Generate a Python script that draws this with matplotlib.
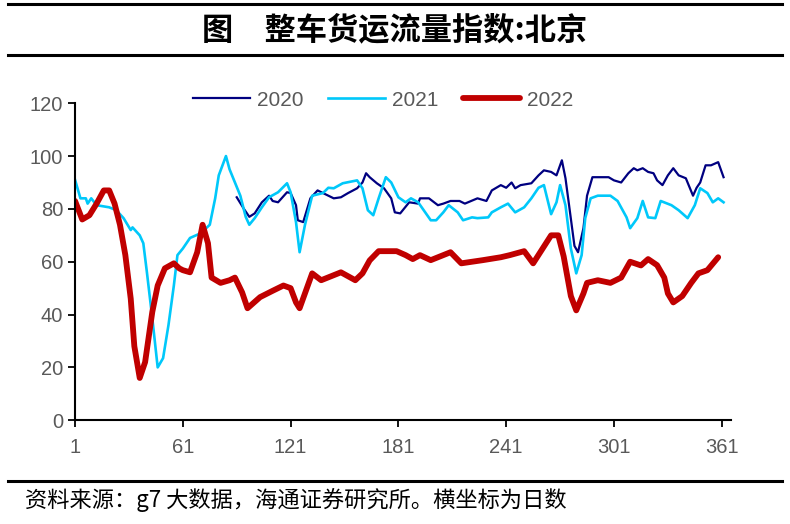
import numpy as np
import matplotlib
matplotlib.use("Agg")
import matplotlib.pyplot as plt
from matplotlib.lines import Line2D

plt.rcParams['font.family'] = ['Liberation Sans', 'Noto Sans CJK SC', 'DejaVu Sans']

# 2020 (starts around day 91)
days_2020 = [91, 95, 98, 101, 105, 109, 111, 114, 119, 121, 124, 125, 128, 132, 136, 139,
             145, 149, 153, 158, 161, 163, 165, 169, 173, 177, 179, 182, 187, 192, 193, 198,
             203, 206, 210, 215, 218, 225, 230, 233, 238, 241, 244, 246, 249, 255, 259, 262,
             266, 269, 272, 274, 276, 279, 281, 284, 286, 289, 294, 298, 301, 305, 309, 312,
             314, 317, 320, 323, 325, 328, 331, 334, 337, 341, 345, 347, 349, 352, 355, 359,
             360, 362]
vals_2020 = [84.4, 80, 77, 78.3, 82.5, 85, 83, 82.5, 86.3, 86, 81.4, 75.7, 75, 84, 87, 86,
             84, 84.4, 86, 87.8, 90, 93.5, 92, 89.7, 87.8, 84, 78.7, 78.3, 82.5, 82, 84, 84,
             81.4, 82, 83, 83, 82, 84, 83, 87, 89, 88, 90, 87.8, 89, 89.7, 92.7, 94.6,
             94, 92.7, 98.4, 91.6, 81.4, 66, 63.6, 72.7, 85, 92, 92, 92, 90.8, 90, 93.5, 95.4,
             94.6, 95.4, 94, 93.5, 90.8, 89, 92.7, 95.4, 92.7, 91.6, 85, 88, 90, 96.5, 96.5, 97.7,
             95.8, 92]

# 2021
days_2021 = [1, 4, 7, 8, 10, 13, 20, 24, 28, 32, 33, 37, 39, 41, 44, 47, 50, 53, 56, 58,
             61, 65, 71, 76, 79, 81, 85, 87, 90, 93, 96, 98, 101, 105, 109, 114, 119, 121,
             124, 126, 129, 133, 139, 142, 145, 150, 158, 161, 164, 167, 170, 174, 177, 181,
             185, 188, 192, 199, 202, 206, 209, 214, 217, 222, 225, 231, 233, 238, 242, 246,
             251, 255, 259, 262, 266, 269, 271, 274, 277, 280, 283, 285, 288, 292, 299, 303,
             308, 310, 314, 317, 320, 324, 327, 333, 337, 342, 346, 349, 353, 356, 359, 362]
vals_2021 = [91, 84, 84, 82, 84, 81.4, 80.6, 79.5, 76.5, 72, 73, 70, 67, 56, 38.6, 20, 23.5, 36, 51, 62.5,
             65, 69, 70.8, 74, 84, 92.7, 100, 95, 90, 85, 77, 74, 76.5, 80.6, 84.4, 86.3, 89.7, 86.3,
             75, 63.6, 74, 85, 86, 88, 87.8, 89.7, 90.8, 87.8, 79.5, 77.6, 84, 92, 90, 84.4,
             82.5, 84, 82.5, 75.7, 75.7, 78.7, 81.4, 78.7, 75.7, 76.8, 76.5, 76.8, 78.7, 80.6, 82, 78.7,
             80.6, 84, 88, 89, 78, 82.5, 89, 81.4, 65, 55.6, 62.5, 76.5, 84, 85, 85, 83,
             76.8, 72.7, 76.5, 83, 76.8, 76.5, 83, 81.4, 79.5, 76.5, 81.4, 87.8, 86, 82.5, 84, 82.5]

# 2022
days_2022 = [1, 5, 9, 13, 17, 20, 23, 26, 29, 32, 34, 37, 40, 44, 47, 51, 56, 59, 61, 65,
             69, 72, 75, 77, 82, 87, 90, 94, 97, 104, 111, 117, 121, 124, 126, 133, 138, 149,
             157, 161, 165, 170, 180, 185, 189, 193, 199, 210, 216, 228, 238, 243, 251, 256,
             266, 270, 273, 277, 280, 284, 286, 292, 299, 305, 310, 316, 320, 325, 329, 331,
             334, 339, 344, 348, 353, 359]
vals_2022 = [83, 76, 77.6, 82, 87, 87, 82, 74, 62.5, 46, 28, 16, 22, 41, 51, 57.5, 59.4, 57.5, 56.8, 56,
             63.6, 74, 67, 54, 52, 53, 54, 48.4, 42.4, 46.6, 49, 51, 50, 44.6, 42.4, 55.6, 53, 56,
             53, 55.6, 60.5, 64, 64, 62.5, 61, 62.5, 60.6, 63.6, 59.4, 60.6, 61.7, 62.5, 64, 59.4,
             70, 70, 62, 47, 41.6, 48, 52, 53, 52, 54, 60, 58.6, 61, 58.7, 54, 48,
             44.6, 47, 52, 55.6, 56.8, 61.7]

x_ticks = [1, 61, 121, 181, 241, 301, 361]
y_ticks = [0, 20, 40, 60, 80, 100, 120]

fig = plt.figure(figsize=(7.9, 5.24), dpi=100)
ax = fig.add_axes([0.095, 0.198, 0.83, 0.605])

ax.plot(days_2020, vals_2020, color='#000080', lw=1.6, label='2020', solid_joinstyle='round')
ax.plot(days_2021, vals_2021, color='#00C8FA', lw=1.9, label='2021', solid_joinstyle='round')
ax.plot(days_2022, vals_2022, color='#C00000', lw=4.2, label='2022', solid_joinstyle='round',
        solid_capstyle='round')

ax.set_xlim(1, 366)
ax.set_ylim(0, 120)
ax.set_xticks(x_ticks)
ax.set_yticks(y_ticks)
for s in ['top', 'right']:
    ax.spines[s].set_visible(False)
for s in ['left', 'bottom']:
    ax.spines[s].set_linewidth(1.5)
ax.tick_params(axis='both', length=5, width=1.3, labelsize=14.5, labelcolor='#595959', direction='out')
ax.tick_params(axis='x', pad=8)

leg = ax.legend(loc='center', bbox_to_anchor=(0.47, 1.01), ncol=3, frameon=False,
                fontsize=15, handlelength=2.7, handletextpad=0.35, columnspacing=1.2)
for t in leg.get_texts():
    t.set_color('#595959')

# title block and source note
fig.text(0.5, 0.943, '图　整车货运流量指数:北京', ha='center', va='center',
         fontsize=22.5, fontweight='bold', family=['Noto Sans CJK SC', 'DejaVu Sans'])
for yy in [0.992, 0.895, 0.082]:
    fig.add_artist(Line2D([0.01, 0.99], [yy, yy], transform=fig.transFigure, color='black', lw=2.2))
fig.text(0.032, 0.045, '资料来源：g7 大数据，海通证券研究所。横坐标为日数', ha='left', va='center',
         fontsize=16, fontweight='light', family=['Noto Sans CJK SC', 'DejaVu Sans'])

fig.savefig('out.png', dpi=100)
